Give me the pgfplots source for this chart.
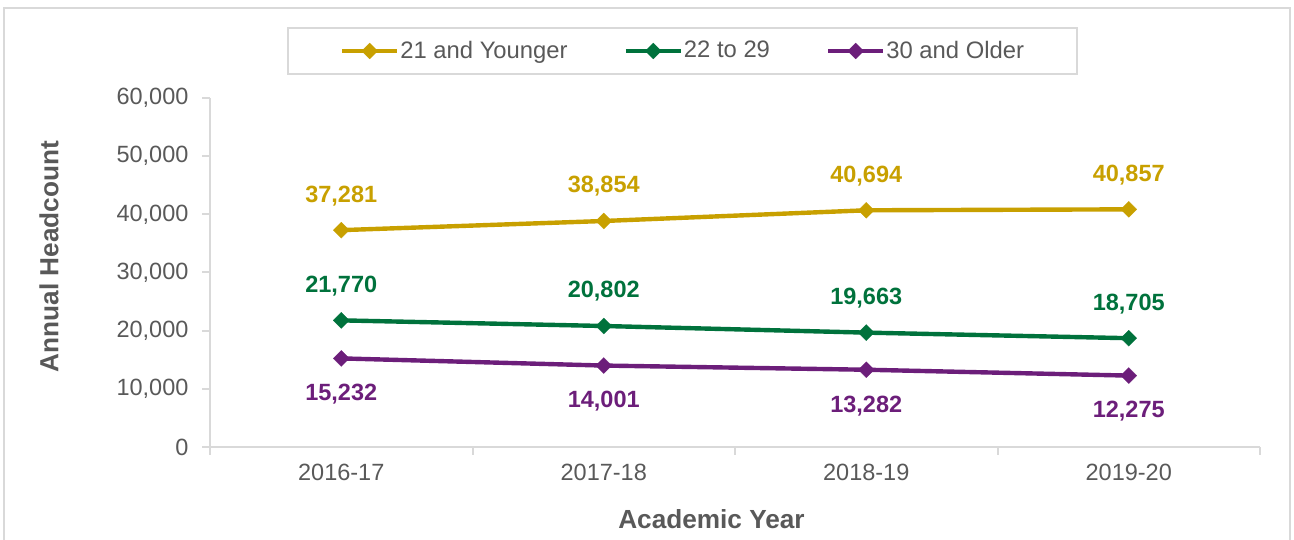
\documentclass[border=0pt]{standalone}
\usepackage{fontspec}
\setmainfont{Liberation Sans}
\usepackage{pgfplots}
\pgfplotsset{compat=1.18}

\definecolor{gold}{RGB}{200,160,0}
\definecolor{darkgreen}{RGB}{0,114,60}
\definecolor{plum}{RGB}{108,30,122}
\definecolor{axisgray}{RGB}{217,217,217}
\definecolor{textgray}{RGB}{89,89,89}

\begin{document}
\begin{tikzpicture}[x=0.5pt,y=0.5pt]
\useasboundingbox (0,0) rectangle (1294,540);
% outer chart frame (bottom edge is cut off in the source)
\draw[axisgray, line width=1pt] (4,-5) -- (4,532) -- (1290,532) -- (1290,-5);

\begin{axis}[
  at={(105pt,46.5pt)}, anchor=south west,
  scale only axis, width=525pt, height=174.5pt,
  xmin=-0.5, xmax=3.5, ymin=0, ymax=60000,
  axis x line*=bottom, axis y line*=left,
  axis line style={-, draw=axisgray, line width=1pt},
  tick style={draw=axisgray, line width=1pt},
  tick align=outside,
  major tick length=3.75pt,
  xtick={-0.5,0.5,1.5,2.5,3.5},
  xticklabels={},
  extra x ticks={0,1,2,3},
  extra x tick labels={2016-17,2017-18,2018-19,2019-20},
  extra x tick style={major tick length=0pt},
  ytick={0,10000,20000,30000,40000,50000,60000},
  scaled y ticks=false,
  /pgf/number format/.cd, fixed, precision=0, 1000 sep={,}, assume math mode=true,
  /pgfplots/.cd,
  ticklabel style={font=\fontsize{11.75pt}{14pt}\selectfont, text=textgray},
  xticklabel style={yshift=-5pt},
  yticklabel style={xshift=-3.5pt},
  xlabel={Academic Year},
  ylabel={Annual Headcount},
  xlabel style={font=\bfseries\fontsize{13.1pt}{15pt}\selectfont, text=textgray,
    at={(axis description cs:0.4776,-0.2063)}, anchor=center},
  ylabel style={font=\bfseries\fontsize{13.1pt}{15pt}\selectfont, text=textgray,
    at={(axis description cs:-0.1533,0.546)}, anchor=center},
  legend columns=3,
  legend style={at={(0.45,1.1347)}, anchor=center,
    draw=axisgray, line width=0.75pt, inner xsep=26pt, inner ysep=4.5pt,
    font=\fontsize{11.9pt}{14pt}\selectfont, text=textgray,
    nodes={inner xsep=0.5pt},
    /tikz/every even column/.append style={column sep=27.5pt}},
  legend image code/.code={
    \draw[mark repeat=2, mark phase=2] plot coordinates {(0pt,0pt) (13.75pt,0pt) (27.5pt,0pt)};},
  every axis plot/.append style={line width=2.2pt, mark=square*,
    mark options={rotate=45, solid, line width=0.1pt}, mark size=2.83pt},
  nodes near coords={\pgfmathprintnumber{\pgfplotspointmeta}},
  every node near coord/.append style={font=\bfseries\fontsize{11.75pt}{14pt}\selectfont, anchor=center},
]

\addplot[color=gold, every node near coord/.append style={text=gold, yshift=17.25pt}]
  coordinates {(0,37281) (1,38854) (2,40694) (3,40857)};
\addlegendentry{21 and Younger}

\addplot[color=darkgreen, every node near coord/.append style={text=darkgreen, yshift=17.25pt}]
  coordinates {(0,21770) (1,20802) (2,19663) (3,18705)};
\addlegendentry{22 to 29}

\addplot[color=plum, every node near coord/.append style={text=plum, yshift=-18pt}]
  coordinates {(0,15232) (1,14001) (2,13282) (3,12275)};
\addlegendentry{30 and Older}

\end{axis}
\end{tikzpicture}
\end{document}
